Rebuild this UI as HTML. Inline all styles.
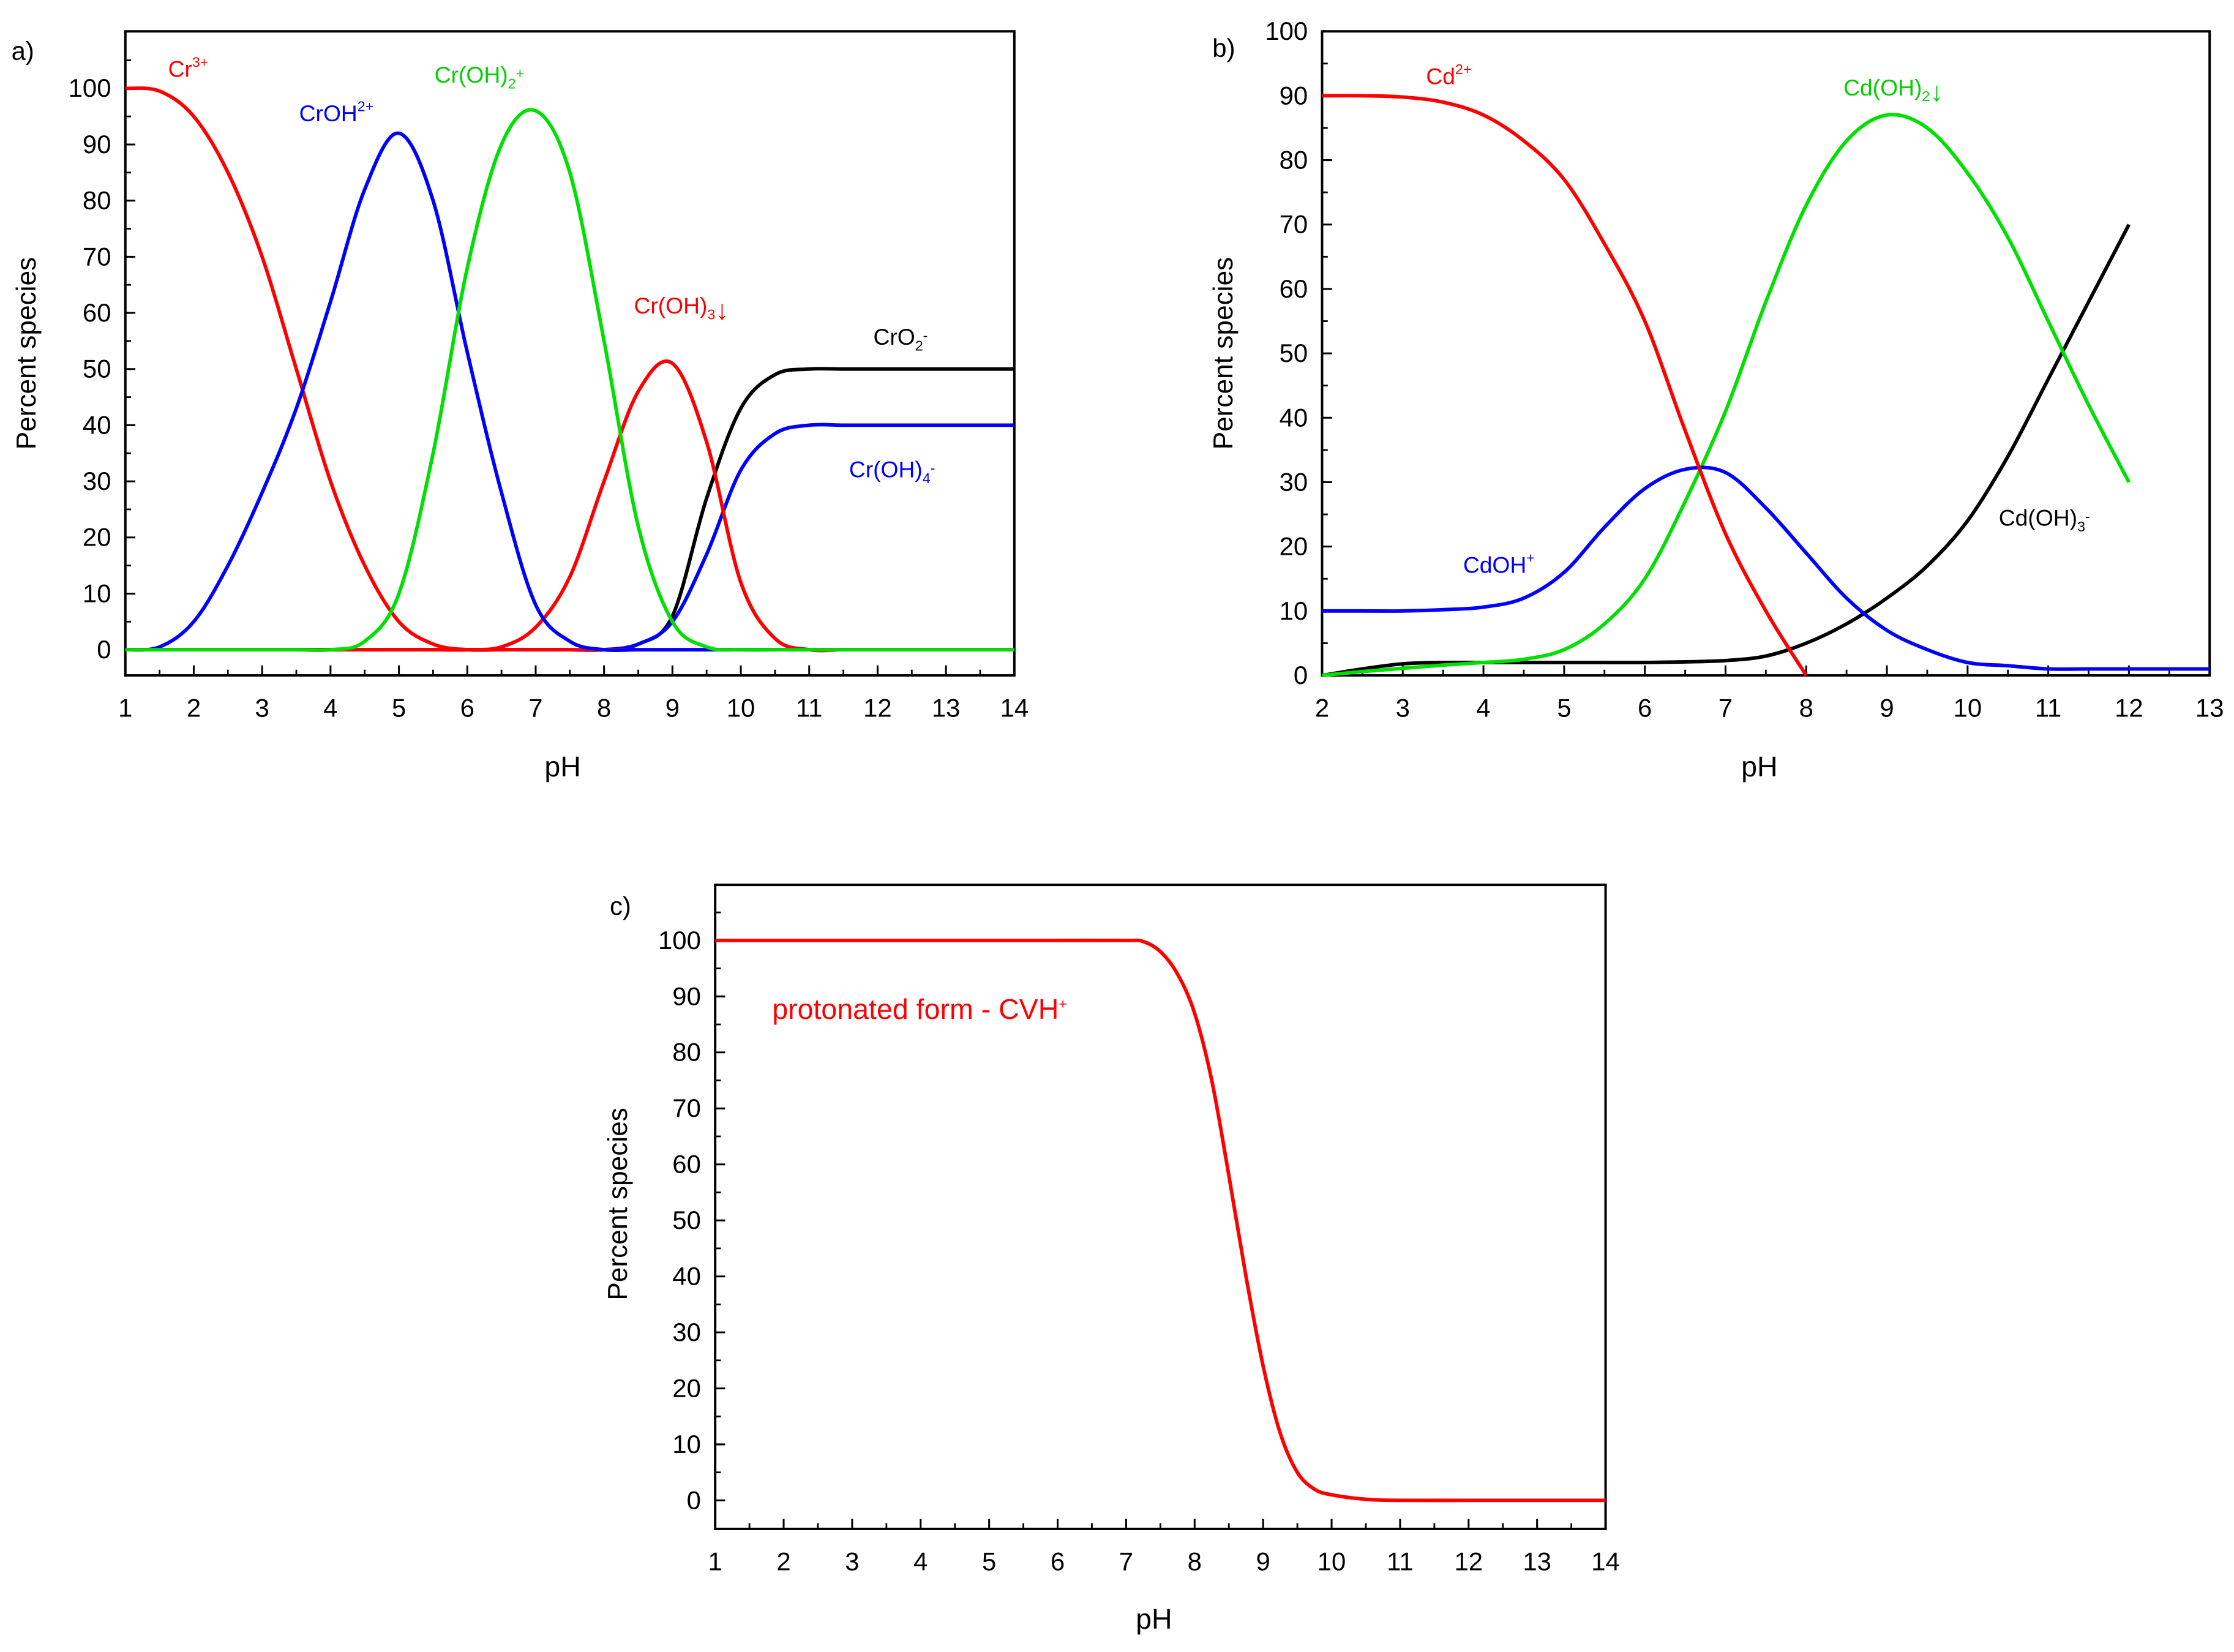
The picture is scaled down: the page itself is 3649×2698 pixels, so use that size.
<!DOCTYPE html>
<html><head><meta charset="utf-8"><style>
html,body{margin:0;padding:0;background:#fff;}
svg{display:block;font-family:"Liberation Sans",Arial,sans-serif;}
</style></head><body>
<svg id="fig" width="3649" height="2698" viewBox="0 0 1568.1 1159.4" preserveAspectRatio="none" xmlns="http://www.w3.org/2000/svg"></svg>
<script>
// ---- Panel a data ----
const aPH = [1,1.5,2,2.5,3,3.5,4,4.5,5,5.5,6,6.5,7,7.5,8,8.5,9,9.5,10,10.5,11,11.5,12,12.5,13,13.5,14];
const aCr3 =    [100,99.5,95,85,70,50,30,15,5,1,0,0,0,0,0,0,0,0,0,0,0,0,0,0,0,0,0];
const aCrOH =   [0,0.5,5,15,28,43,62,82,92,80,53,28,8,1.5,0,0,0,0,0,0,0,0,0,0,0,0,0];
const aCrOH2 =  [0,0,0,0,0,0,0,1.5,10,35,68,90,96,85,55,22,5,0.5,0,0,0,0,0,0,0,0,0];
const aCrOH3 =  [0,0,0,0,0,0,0,0,0,0,0,0.5,4,13,30,46,51,37,12,2,0,0,0,0,0,0,0];
const aCrO2 =   [0,0,0,0,0,0,0,0,0,0,0,0,0,0,0,1,6,27,43,49,50,50,50,50,50,50,50];
const aCrOH4 =  [0,0,0,0,0,0,0,0,0,0,0,0,0,0,0,1,5,17,32,38.5,40,40,40,40,40,40,40];
// ---- Panel b data ----
const bPH = [2,2.5,3,3.5,4,4.5,5,5.5,6,6.5,7,7.5,8,8.5,9,9.5,10,10.5,11,11.5,12];
const bCd =     [90,90,89.8,89,87,83,77,67,55,38,22,10,0];
const bCdOH =   [10,10,10,10.2,10.6,12,16,23,29,32,31.5,26,19,12,7,4,2,1.5,1,1,1];
const bCdOH2 =  [0,0.6,1.1,1.6,2,2.5,4,8,15,27,41,58,73,83,87,85,78,68,55,42,30];
const bCdOH3 =  [0,1,1.8,2,2,2,2,2,2,2.1,2.3,3,5,8,12,17,24,34,46,58,70];
const bCdOHx =  [12.5,13];
const bCdOHtail=[1,1];
// ---- Panel c data ----
const cPH = [1,2,3,4,5,6,7,7.25,7.5,7.75,8,8.25,8.5,8.75,9,9.25,9.5,9.75,10,10.5,11,12,13,14];
const cCVH = [100,100,100,100,100,100,100,99.8,98,94,87,75,58,40,24,12,5,2,1,0.2,0,0,0,0];

const NS="http://www.w3.org/2000/svg";
const fig=document.getElementById('fig');
function mk(tag,attrs,parent){const e=document.createElementNS(NS,tag);for(const k in attrs)e.setAttribute(k,attrs[k]);(parent||fig).appendChild(e);return e;}

function panel(name,box,xmin,xmax,ymin,ymax){
  const g=mk('g',{});
  
  
  const sx=v=>box.x0+(v-xmin)/(xmax-xmin)*(box.x1-box.x0);
  const sy=v=>box.y0-(v-ymin)/(ymax-ymin)*(box.y0-box.y1);
  return {g,sx,sy,box};
}
function drawAxes(P,xTicks,yTicks,xMinor,yMinor){
  const {g,sx,sy,box}=P;
  const fr=mk('rect',{x:box.x0,y:box.yt,width:box.x1-box.x0,height:box.yb-box.yt,fill:'none',stroke:'#000','stroke-width':1.7},g);
  
  
  xTicks.forEach(t=>{
    const x=sx(t);
    mk('line',{x1:x,x2:x,y1:box.yb,y2:box.yb-7,stroke:'#000','stroke-width':1.3},g);
    const tx=mk('text',{x:x,y:box.yb+29,'text-anchor':'middle','font-size':18,fill:'#000'},g);
    tx.textContent=t;
    
    
  });
  xMinor.forEach(t=>{const x=sx(t);mk('line',{x1:x,x2:x,y1:box.yb,y2:box.yb-4,stroke:'#000','stroke-width':1.2},g);});
  yTicks.forEach(t=>{
    const y=sy(t);
    mk('line',{x1:box.x0,x2:box.x0+7,y1:y,y2:y,stroke:'#000','stroke-width':1.3},g);
    const tx=mk('text',{x:box.x0-10,y:y+6,'text-anchor':'end','font-size':18,fill:'#000'},g);
    tx.textContent=t;
    
    
  });
  yMinor.forEach(t=>{const y=sy(t);mk('line',{x1:box.x0,x2:box.x0+4,y1:y,y2:y,stroke:'#000','stroke-width':1.2},g);});
}
function curve(P,xs,ys,color,name){
  const pts=xs.slice(0,ys.length).map((x,i)=>[P.sx(x),P.sy(ys[i])]);
  let d='M'+pts[0][0]+','+pts[0][1];
  for(let i=0;i<pts.length-1;i++){
    const p0=pts[Math.max(i-1,0)],p1=pts[i],p2=pts[i+1],p3=pts[Math.min(i+2,pts.length-1)];
    const c1=[p1[0]+(p2[0]-p0[0])/6,p1[1]+(p2[1]-p0[1])/6];
    const c2=[p2[0]-(p3[0]-p1[0])/6,p2[1]-(p3[1]-p1[1])/6];
    d+=' C'+c1[0]+','+c1[1]+' '+c2[0]+','+c2[1]+' '+p2[0]+','+p2[1];
  }
  const p=mk('path',{d:d,fill:'none',stroke:color,'stroke-width':2.5,'stroke-linejoin':'round'},P.g);
  
  
}
function label(html,x,y,color,size,name,anchor){
  const t=mk('text',{x:x,y:y,fill:color,'font-size':size||15,'text-anchor':anchor||'start'});
  t.innerHTML=html;
  
  
  return t;
}
function ytitle(x,y,name){
  const t=mk('text',{x:0,y:0,'font-size':19,fill:'#000','text-anchor':'middle',transform:'translate('+x+','+y+') rotate(-90)'});
  t.textContent='Percent species';
  
  
}
const sup=(s)=>'<tspan dy="-7" font-size="10">'+s+'</tspan><tspan dy="7"></tspan>';
const sub=(s)=>'<tspan dy="4" font-size="10">'+s+'</tspan><tspan dy="-4"></tspan>';
const arr='<tspan font-size="19">↓</tspan>';
const rng=(a,b,s)=>{const r=[];for(let v=a;v<=b+1e-9;v+=s)r.push(+v.toFixed(2));return r;};

// Panel a
const A=panel('panel-a-chromium',{x0:88,x1:712,y0:456,y1:62,yt:22,yb:474},1,14,0,100);
drawAxes(A,rng(1,14,1),rng(0,100,10),rng(1.5,13.5,1),rng(5,105,10));
curve(A,aPH,aCrO2,'#000','line-cro2');
curve(A,aPH,aCrOH4,'#0000ff','line-croh4');
curve(A,aPH,aCr3,'#ff0000','line-cr3');
curve(A,aPH,aCrOH3,'#ff0000','line-croh3');
curve(A,aPH,aCrOH,'#0000ff','line-croh2plus');
curve(A,aPH,aCrOH2,'#00e000','line-croh2');
label('a)',8,42,'#000',18,'panel-a-label');
label('Cr'+sup('3+'),118,54,'#ff0000',16,'label-cr3');
label('CrOH'+sup('2+'),210,85,'#0000ff',16,'label-croh');
label('Cr(OH)'+sub('2')+sup('+'),305,58,'#00d000',16,'label-croh2');
label('Cr(OH)'+sub('3')+arr,445,220,'#ff0000',16,'label-croh3');
label('CrO'+sub('2')+sup('-'),613,242,'#000',16,'label-cro2');
label('Cr(OH)'+sub('4')+sup('-'),596,335,'#0000ff',16,'label-croh4');
ytitle(25,248,'y-axis-title-a');
label('pH',395,545,'#000',20,'x-axis-title-a','middle');

// Panel b
const B=panel('panel-b-cadmium',{x0:928,x1:1551,y0:474,y1:22,yt:22,yb:474},2,13,0,100);
drawAxes(B,rng(2,13,1),rng(0,100,10),rng(2.5,12.5,1),rng(5,95,10));
curve(B,bPH,bCdOH3,'#000','line-cdoh3');
curve(B,bPH,bCdOH2,'#00e000','line-cdoh2');
curve(B,bPH.concat(bCdOHx),bCdOH.concat(bCdOHtail),'#0000ff','line-cdoh');
curve(B,bPH,bCd,'#ff0000','line-cd2');
label('b)',851,40,'#000',18,'panel-b-label');
label('Cd'+sup('2+'),1001,59,'#ff0000',16,'label-cd2');
label('Cd(OH)'+sub('2')+arr,1294,67,'#00d000',16,'label-cdoh2');
label('CdOH'+sup('+'),1027,402,'#0000ff',16,'label-cdoh');
label('Cd(OH)'+sub('3')+sup('-'),1403,369,'#000',16,'label-cdoh3');
ytitle(865,248,'y-axis-title-b');
label('pH',1235,545,'#000',20,'x-axis-title-b','middle');

// Panel c
const C=panel('panel-c-crystal-violet',{x0:502,x1:1127,y0:1053,y1:660,yt:621,yb:1073},1,14,0,100);
drawAxes(C,rng(1,14,1),rng(0,100,10),rng(1.5,13.5,1),rng(5,105,10));
curve(C,cPH,cCVH,'#ff0000','line-cvh');
label('c)',428,642,'#000',18,'panel-c-label');
label('protonated form - CVH'+sup('+'),542,715,'#ff0000',20,'label-cvh');
ytitle(440,845,'y-axis-title-c');
label('pH',810,1143,'#000',20,'x-axis-title-c','middle');
</script>
</body></html>
